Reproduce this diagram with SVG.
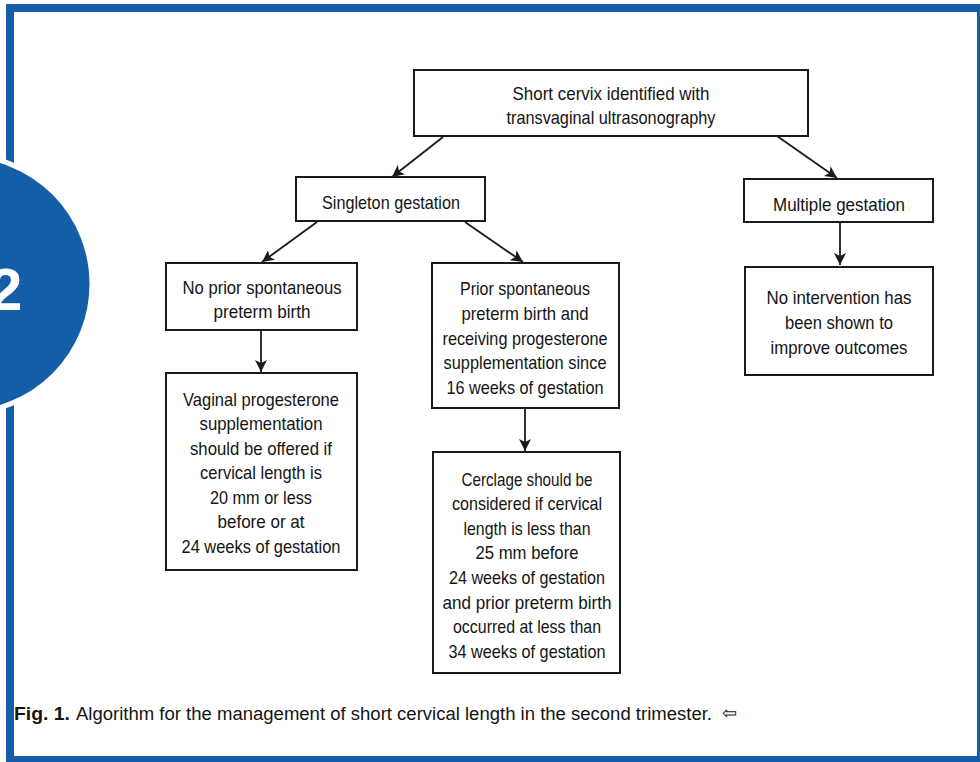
<svg xmlns="http://www.w3.org/2000/svg" width="980" height="762" viewBox="0 0 980 762">
<style>
.box{fill:#fff;stroke:#1a1a1a;stroke-width:2}
.t{font-family:"Liberation Sans",Arial,sans-serif;font-size:19px;fill:#141414;text-anchor:middle}
.cap{font-family:"Liberation Sans",Arial,sans-serif;font-size:18px;fill:#141414}
.frame{fill:#145ea8}
.conn line{stroke:#1a1a1a;stroke-width:1.8;marker-end:url(#ah)}
</style>
<defs>
<marker id="ah" markerUnits="userSpaceOnUse" markerWidth="14" markerHeight="12" refX="12" refY="6" orient="auto">
<path d="M0,0 L12,6 L0,12 L3,6 Z" fill="#1a1a1a"/>
</marker>
</defs>
<rect width="980" height="762" fill="#fff"/>
<g id="frame">
<rect class="frame" x="6" y="4" width="974" height="8"/>
<rect class="frame" x="6" y="4" width="8" height="758"/>
<rect class="frame" x="6" y="756" width="974" height="6"/>
<rect class="frame" x="977" y="4" width="3" height="758"/>
</g>
<g id="badge">
<circle cx="-37" cy="284" r="129" fill="#145ea8" stroke="#fff" stroke-width="5"/>
<text x="-11" y="310" font-family="Liberation Sans,Arial,sans-serif" font-weight="bold" font-size="60" fill="#fff">2</text>
</g>
<g class="conn" id="connectors">
<line x1="443" y1="137" x2="392" y2="177"/>
<line x1="777" y1="136" x2="837" y2="178"/>
<line x1="317" y1="222" x2="262" y2="262"/>
<line x1="465" y1="222" x2="523" y2="262"/>
<line x1="840" y1="222" x2="840" y2="265"/>
<line x1="261" y1="331" x2="261" y2="372"/>
<line x1="525" y1="409" x2="525" y2="451"/>
</g>
<g id="n-root">
<rect class="box" x="414" y="70" width="394" height="66"/>
<text class="t" x="611" y="100" textLength="197" lengthAdjust="spacingAndGlyphs">Short cervix identified with</text>
<text class="t" x="611" y="124" textLength="209" lengthAdjust="spacingAndGlyphs">transvaginal ultrasonography</text>
</g>
<g id="n-singleton">
<rect class="box" x="296" y="177" width="189" height="44"/>
<text class="t" x="391" y="209" textLength="138" lengthAdjust="spacingAndGlyphs">Singleton gestation</text>
</g>
<g id="n-multiple">
<rect class="box" x="744" y="179" width="189" height="43"/>
<text class="t" x="839" y="211" textLength="132" lengthAdjust="spacingAndGlyphs">Multiple gestation</text>
</g>
<g id="n-nointervention">
<rect class="box" x="745" y="267" width="188" height="108"/>
<text class="t" x="839" y="304" textLength="145" lengthAdjust="spacingAndGlyphs">No intervention has</text>
<text class="t" x="839" y="329" textLength="108" lengthAdjust="spacingAndGlyphs">been shown to</text>
<text class="t" x="839" y="354" textLength="137" lengthAdjust="spacingAndGlyphs">improve outcomes</text>
</g>
<g id="n-noprior">
<rect class="box" x="166" y="263" width="191" height="67"/>
<text class="t" x="262" y="294" textLength="159" lengthAdjust="spacingAndGlyphs">No prior spontaneous</text>
<text class="t" x="262" y="318" textLength="97" lengthAdjust="spacingAndGlyphs">preterm birth</text>
</g>
<g id="n-vaginal">
<rect class="box" x="166" y="373" width="191" height="197"/>
<text class="t" x="261" y="406" textLength="156" lengthAdjust="spacingAndGlyphs">Vaginal progesterone</text>
<text class="t" x="261" y="430" textLength="123" lengthAdjust="spacingAndGlyphs">supplementation</text>
<text class="t" x="261" y="455" textLength="142" lengthAdjust="spacingAndGlyphs">should be offered if</text>
<text class="t" x="261" y="479" textLength="122" lengthAdjust="spacingAndGlyphs">cervical length is</text>
<text class="t" x="261" y="504" textLength="102" lengthAdjust="spacingAndGlyphs">20 mm or less</text>
<text class="t" x="261" y="528" textLength="87" lengthAdjust="spacingAndGlyphs">before or at</text>
<text class="t" x="261" y="553" textLength="159" lengthAdjust="spacingAndGlyphs">24 weeks of gestation</text>
</g>
<g id="n-prior">
<rect class="box" x="432" y="263" width="187" height="145"/>
<text class="t" x="525" y="295" textLength="130" lengthAdjust="spacingAndGlyphs">Prior spontaneous</text>
<text class="t" x="525" y="320" textLength="127" lengthAdjust="spacingAndGlyphs">preterm birth and</text>
<text class="t" x="525" y="345" textLength="165" lengthAdjust="spacingAndGlyphs">receiving progesterone</text>
<text class="t" x="525" y="369" textLength="163" lengthAdjust="spacingAndGlyphs">supplementation since</text>
<text class="t" x="525" y="394" textLength="157" lengthAdjust="spacingAndGlyphs">16 weeks of gestation</text>
</g>
<g id="n-cerclage">
<rect class="box" x="433" y="452" width="187" height="221"/>
<text class="t" x="527" y="486" textLength="131" lengthAdjust="spacingAndGlyphs">Cerclage should be</text>
<text class="t" x="527" y="510" textLength="150" lengthAdjust="spacingAndGlyphs">considered if cervical</text>
<text class="t" x="527" y="535" textLength="127" lengthAdjust="spacingAndGlyphs">length is less than</text>
<text class="t" x="527" y="559" textLength="103" lengthAdjust="spacingAndGlyphs">25 mm before</text>
<text class="t" x="527" y="584" textLength="156" lengthAdjust="spacingAndGlyphs">24 weeks of gestation</text>
<text class="t" x="527" y="609" textLength="169" lengthAdjust="spacingAndGlyphs">and prior preterm birth</text>
<text class="t" x="527" y="633" textLength="148" lengthAdjust="spacingAndGlyphs">occurred at less than</text>
<text class="t" x="527" y="658" textLength="157" lengthAdjust="spacingAndGlyphs">34 weeks of gestation</text>
</g>
<g id="caption">
<text class="cap" x="14" y="720" font-weight="bold" textLength="56" lengthAdjust="spacingAndGlyphs">Fig. 1.</text>
<text class="cap" x="76" y="720" textLength="636" lengthAdjust="spacingAndGlyphs">Algorithm for the management of short cervical length in the second trimester.</text>
<text class="cap" x="722" y="719" font-family="DejaVu Sans,sans-serif" font-size="15">⇦</text>
</g>
</svg>
